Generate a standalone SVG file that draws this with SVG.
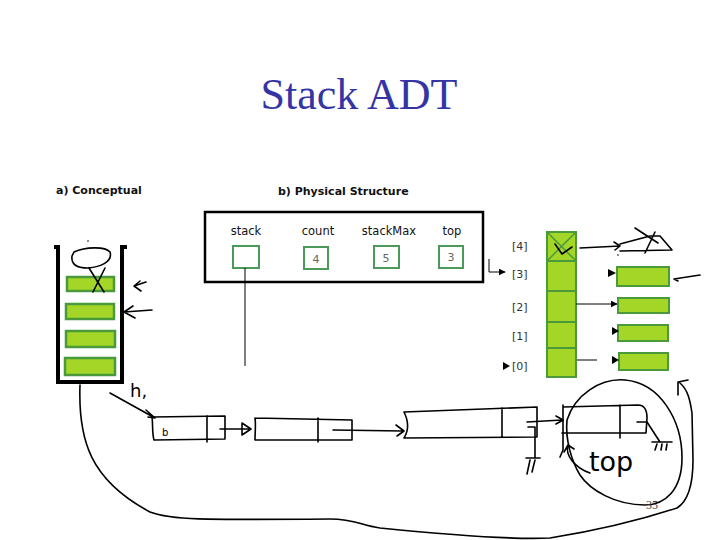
<svg xmlns="http://www.w3.org/2000/svg" width="720" height="540" viewBox="0 0 720 540">
<defs>
<style>
.ink{fill:none;stroke:#000;stroke-width:1.6;stroke-linecap:round;stroke-linejoin:round}
.bar{fill:#a3d626;stroke:#4a9a3c;stroke-width:2.5}
.cell{fill:#a3d626;stroke:#4a9a3c;stroke-width:2}
.fld{fill:#fff;stroke:#4a9a5a;stroke-width:2}
.lbl{font-family:"DejaVu Sans",sans-serif;font-size:11.5px;fill:#111;text-anchor:middle}
.val{font-family:"DejaVu Sans",sans-serif;font-size:11px;fill:#666;text-anchor:middle}
.idx{font-family:"DejaVu Sans",sans-serif;font-size:11px;fill:#333}
.hd{font-family:"DejaVu Sans",sans-serif;font-size:11px;font-weight:bold;fill:#111}
.thin{stroke:#000;stroke-width:1;fill:none}
</style>
<marker id="tri" viewBox="0 0 10 10" refX="9" refY="5" markerWidth="7" markerHeight="7" orient="auto"><path d="M0,0 L10,5 L0,10 z" fill="#000"/></marker>
</defs>
<rect width="720" height="540" fill="#fff"/>
<text x="359" y="109" font-family="Liberation Serif,serif" font-size="44" fill="#3434a4" text-anchor="middle">Stack ADT</text>

<g id="conceptual">
<text class="hd" x="56" y="194">a) Conceptual</text>
<path d="M54,247 H58 V382 H122 V247 H127" fill="none" stroke="#000" stroke-width="4"/>
<rect class="bar" x="67" y="277" width="47" height="14"/>
<rect class="bar" x="66" y="304" width="48" height="15"/>
<rect class="bar" x="66" y="331" width="49" height="16"/>
<rect class="bar" x="65" y="358" width="50" height="17"/>
<path class="ink" d="M74,252 C85,247 105,246 110,252 C113,262 100,267 88,268 C76,268 71,264 72,256 Z"/>
<path class="ink" d="M89,268 L104,292 M105,268 L93,292"/>
<circle cx="88" cy="241" r="0.8" fill="#000"/>
<path class="ink" d="M146,282 L134,286 M134,286 L140,281 M134,286 L141,291"/>
<path class="ink" d="M152,310 L124,312 M124,312 L133,306 M124,312 L135,318"/>
</g>

<g id="physical">
<text class="hd" x="278" y="195">b) Physical Structure</text>
<rect x="205" y="212" width="278" height="70" fill="#fff" stroke="#000" stroke-width="2.5"/>
<text class="lbl" x="246" y="235">stack</text>
<text class="lbl" x="318" y="235">count</text>
<text class="lbl" x="389" y="235">stackMax</text>
<text class="lbl" x="452" y="235">top</text>
<rect class="fld" x="233" y="246" width="26" height="22"/>
<rect class="fld" x="304" y="247" width="24" height="22"/>
<rect class="fld" x="374" y="246" width="25" height="22"/>
<rect class="fld" x="439" y="246" width="24" height="22"/>
<text class="val" x="316" y="263">4</text>
<text class="val" x="386" y="262">5</text>
<text class="val" x="451" y="261">3</text>
</g>

<g id="array">
<rect class="cell" x="547" y="232" width="29" height="145"/>
<path d="M547,261 H576 M547,291 H576 M547,322 H576 M547,348 H576" stroke="#4a9a3c" stroke-width="2"/>
<path d="M547,232 L576,261 M576,232 L547,261" stroke="#4a9a3c" stroke-width="1.5"/>
<path class="ink" d="M555,244 L562,254 L572,247"/>
<text class="idx" x="512" y="250">[4]</text>
<text class="idx" x="512" y="278">[3]</text>
<text class="idx" x="512" y="311">[2]</text>
<text class="idx" x="512" y="340">[1]</text>
<text class="idx" x="512" y="370">[0]</text>
<path d="M503,362 L510,366 L503,370 z" fill="#000"/>
</g>

<g id="elements">
<rect class="cell" x="617" y="267" width="52" height="19"/>
<rect class="cell" x="618" y="298" width="51" height="15"/>
<rect class="cell" x="618" y="325" width="50" height="16"/>
<rect class="cell" x="619" y="353" width="49" height="17"/>
</g>

<g id="list">
<path class="ink" d="M152,417 L225,416 L225,439 L154,440 C152,433 153,424 152,417"/>
<path class="ink" d="M207,416 V442"/>
<text x="162" y="436" font-family="DejaVu Sans,sans-serif" font-size="10" fill="#000">b</text>
<path class="ink" d="M255,418 L352,420 V440 H255 C255,432 256,424 255,418 M318,418 V442"/>
<path class="ink" d="M404,412 L537,407 V437 L404,438 C409,430 408,420 404,412 M502,408 V437"/>
<path class="ink" d="M563,407 L638,405 C645,405 647,410 647,418 L646,433 L562,433 M620,405 V438 M563,405 V450 L560,457"/>
</g>

<g id="connectors">
<line class="thin" x1="245" y1="268" x2="245" y2="366"/>
<path class="thin" d="M489,259 V272 H505" marker-end="url(#tri)"/>
<path d="M608,269 L616,273 L608,277 z" fill="#000"/>
<line class="thin" x1="576" y1="304" x2="617" y2="304" marker-end="url(#tri)"/>
<path d="M612,327 L619,331 L612,335 z" fill="#000"/>
<line class="thin" x1="577" y1="360" x2="597" y2="360"/>
<path d="M612,356 L619,360 L612,364 z" fill="#000"/>
<path class="ink" d="M580,248 L620,246 M614,242 L620,246 L615,250"/>
<path class="ink" d="M620,244 L650,236 L660,236 L672,250 L620,251 M635,228 L658,243 M655,232 L645,253"/>
<circle cx="618" cy="255" r="0.8" fill="#000"/>
<path class="ink" d="M700,275 L674,279 L678,281"/>
<path class="ink" d="M110,393 L155,418 M146,410 L155,418 L148,417"/>
<path class="ink" d="M220,429 L250,429 M242,423 L251,429 L242,435 Z"/>
<path class="ink" d="M333,430 L403,431 M396,425 L404,431 L397,436"/>
<path class="ink" d="M528,427 H535 V458 M526,458 H540 M530,460 L527,474 M535,460 L532,472"/>
<path class="ink" d="M527,422 L562,420 M556,416 L563,420 L556,424"/>
<path class="ink" d="M637,422 H647 L660,442 M652,442 H672 M657,444 L655,450 M662,444 L661,450 M667,444 L666,450"/>
<path class="ink" d="M590,473 C575,468 565,455 568,446 M564,452 L568,445 L574,449"/>
<path class="ink" d="M567,420 C575,395 600,378 625,380 C660,383 682,420 682,458 C682,490 665,505 645,505 C615,505 590,490 580,475 C572,462 565,440 567,420"/>
<path class="ink" d="M80,385 C78,440 90,480 150,512 C170,520 200,520 330,519 C355,519 360,525 380,528 C450,535 510,540 550,538 C600,530 640,520 677,508 C690,500 693,480 693,460 L692,413 C690,400 688,390 680,383 M678,395 L678,382 L688,380"/>
</g>

<text x="130" y="397" font-family="DejaVu Sans,sans-serif" font-size="18" fill="#000">h,</text>
<text x="589" y="471" font-family="DejaVu Sans,sans-serif" font-size="27" fill="#000">top</text>
<text x="652" y="509" font-family="Liberation Serif,serif" font-size="12" fill="#444" text-anchor="middle">35</text>
</svg>
